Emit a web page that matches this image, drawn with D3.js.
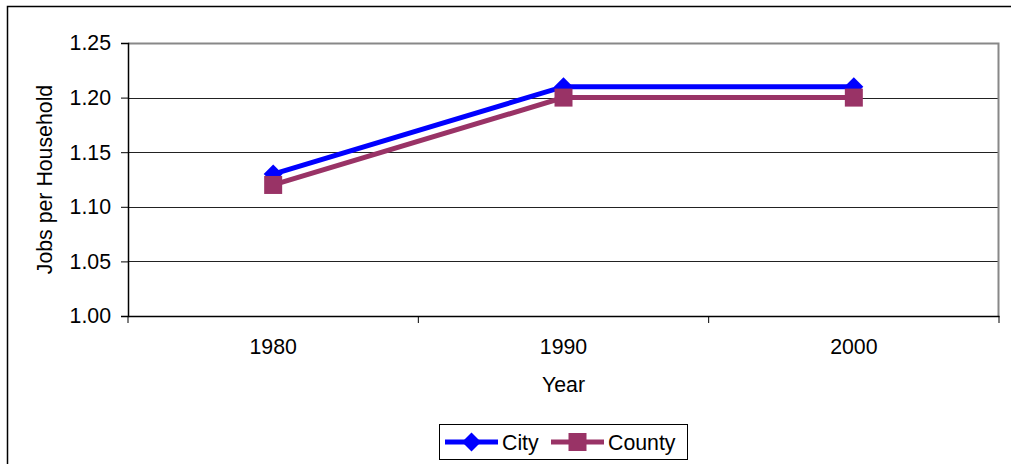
<!DOCTYPE html>
<html>
<head>
<meta charset="utf-8">
<script src="https://cdn.jsdelivr.net/npm/d3@7"></script>
<style>
  body { margin: 0; background: #fff; }
  text { font-family: "Liberation Sans", Arial, sans-serif; fill: #000; }
</style>
</head>
<body>
<svg width="1011" height="464"></svg>
<script>
var years = ["1980", "1990", "2000"];
var city = [1.13, 1.21, 1.21];
var county = [1.12, 1.20, 1.20];
var yTicks = [1.00, 1.05, 1.10, 1.15, 1.20, 1.25];

var fontSize = "21.3px";

var svg = d3.select("svg"),
    margin = {top: 43, right: 12, bottom: 148, left: 128},
    width = 1011 - margin.left - margin.right,
    height = 464 - margin.top - margin.bottom;

// outer chart border
svg.append("rect")
    .attr("x", 7.5).attr("y", 6.5)
    .attr("width", 1020).attr("height", 470)
    .attr("fill", "none").attr("stroke", "#000").attr("stroke-width", 1.5);

var g = svg.append("g").attr("transform", "translate(" + margin.left + "," + margin.top + ")");

var x = d3.scaleBand().domain(years).range([0, width]);
var y = d3.scaleLinear().domain([1.00, 1.25]).range([height, 0]);

// gridlines
g.selectAll(".grid")
  .data(yTicks.slice(1, -1))
  .enter().append("line")
    .attr("x1", 0).attr("x2", width)
    .attr("y1", function(d) { return Math.round(y(d)) + 0.5; })
    .attr("y2", function(d) { return Math.round(y(d)) + 0.5; })
    .attr("stroke", "#222").attr("stroke-width", 1);

// plot frame top/right in gray
g.append("path")
    .attr("d", "M0," + (y(1.25) + 0.5) + "H" + (width - 0.5) + "V" + height)
    .attr("fill", "none").attr("stroke", "#888").attr("stroke-width", 2);

var yAxis = g.append("g")
    .call(d3.axisLeft(y).tickValues(yTicks).tickFormat(d3.format(".2f")).tickSize(7).tickPadding(10));
var xAxis = g.append("g")
    .attr("transform", "translate(0," + height + ")")
    .call(d3.axisBottom(x).tickSize(0).tickPadding(23));

// category separator ticks
xAxis.selectAll(".sep")
  .data([0, 1, 2, 3])
  .enter().append("line")
    .attr("x1", function(d) { return d * x.step(); })
    .attr("x2", function(d) { return d * x.step(); })
    .attr("y1", 0).attr("y2", 7)
    .attr("stroke", "#000");

[yAxis, xAxis].forEach(function(a) {
  a.select(".domain").attr("stroke", "#000").attr("stroke-width", 1.5);
  a.selectAll(".tick line").attr("stroke", "#000");
  a.selectAll("text").style("font-size", fontSize).attr("fill", "#000")
    .style("font-family", '"Liberation Sans", Arial, sans-serif');
});

function cx(i) { return x(years[i]) + x.bandwidth() / 2; }

// square-style diamond (rotated square)
var diamond = {
  draw: function(ctx, size) {
    var r = Math.sqrt(size / 2);
    ctx.moveTo(0, -r); ctx.lineTo(r, 0); ctx.lineTo(0, r); ctx.lineTo(-r, 0); ctx.closePath();
  }
};

var series = [
  {name: "City", values: city, color: "#0000ff", symbol: diamond, size: 180},
  {name: "County", values: county, color: "#993366", symbol: d3.symbolSquare, size: 324}
];

var line = d3.line()
    .x(function(d, i) { return cx(i); })
    .y(function(d) { return y(d); });

series.slice().reverse().forEach(function(s) {
  g.append("path")
      .attr("d", line(s.values))
      .attr("fill", "none").attr("stroke", s.color).attr("stroke-width", 5);
});

// markers: county squares on top of city diamonds
series.forEach(function(s) {
  g.selectAll(".m-" + s.name)
    .data(s.values)
    .enter().append("path")
      .attr("transform", function(d, i) { return "translate(" + cx(i) + "," + y(d) + ")"; })
      .attr("d", d3.symbol().type(s.symbol).size(s.size))
      .attr("fill", s.color);
});

// axis titles
svg.append("text")
    .attr("transform", "translate(52," + (margin.top + height / 2) + ") rotate(-90)")
    .attr("text-anchor", "middle")
    .style("font-size", fontSize)
    .text("Jobs per Household");

svg.append("text")
    .attr("x", margin.left + width / 2).attr("y", 392)
    .attr("text-anchor", "middle")
    .style("font-size", fontSize)
    .text("Year");

// legend
var legend = svg.append("g").attr("transform", "translate(439,424)");
legend.append("rect")
    .attr("x", 0.5).attr("y", 0.5).attr("width", 248).attr("height", 35)
    .attr("fill", "#fff").attr("stroke", "#000");

var lx = [6, 112];
series.forEach(function(s, i) {
  var item = legend.append("g").attr("transform", "translate(" + lx[i] + ",18)");
  item.append("line").attr("x1", 0).attr("x2", 53).attr("y1", 0).attr("y2", 0)
      .attr("stroke", s.color).attr("stroke-width", 5);
  item.append("path")
      .attr("transform", "translate(26.5,0)")
      .attr("d", d3.symbol().type(s.symbol).size(s.size))
      .attr("fill", s.color);
  item.append("text")
      .attr("x", 57).attr("y", 8)
      .style("font-size", fontSize)
      .text(s.name);
});
</script>
</body>
</html>
